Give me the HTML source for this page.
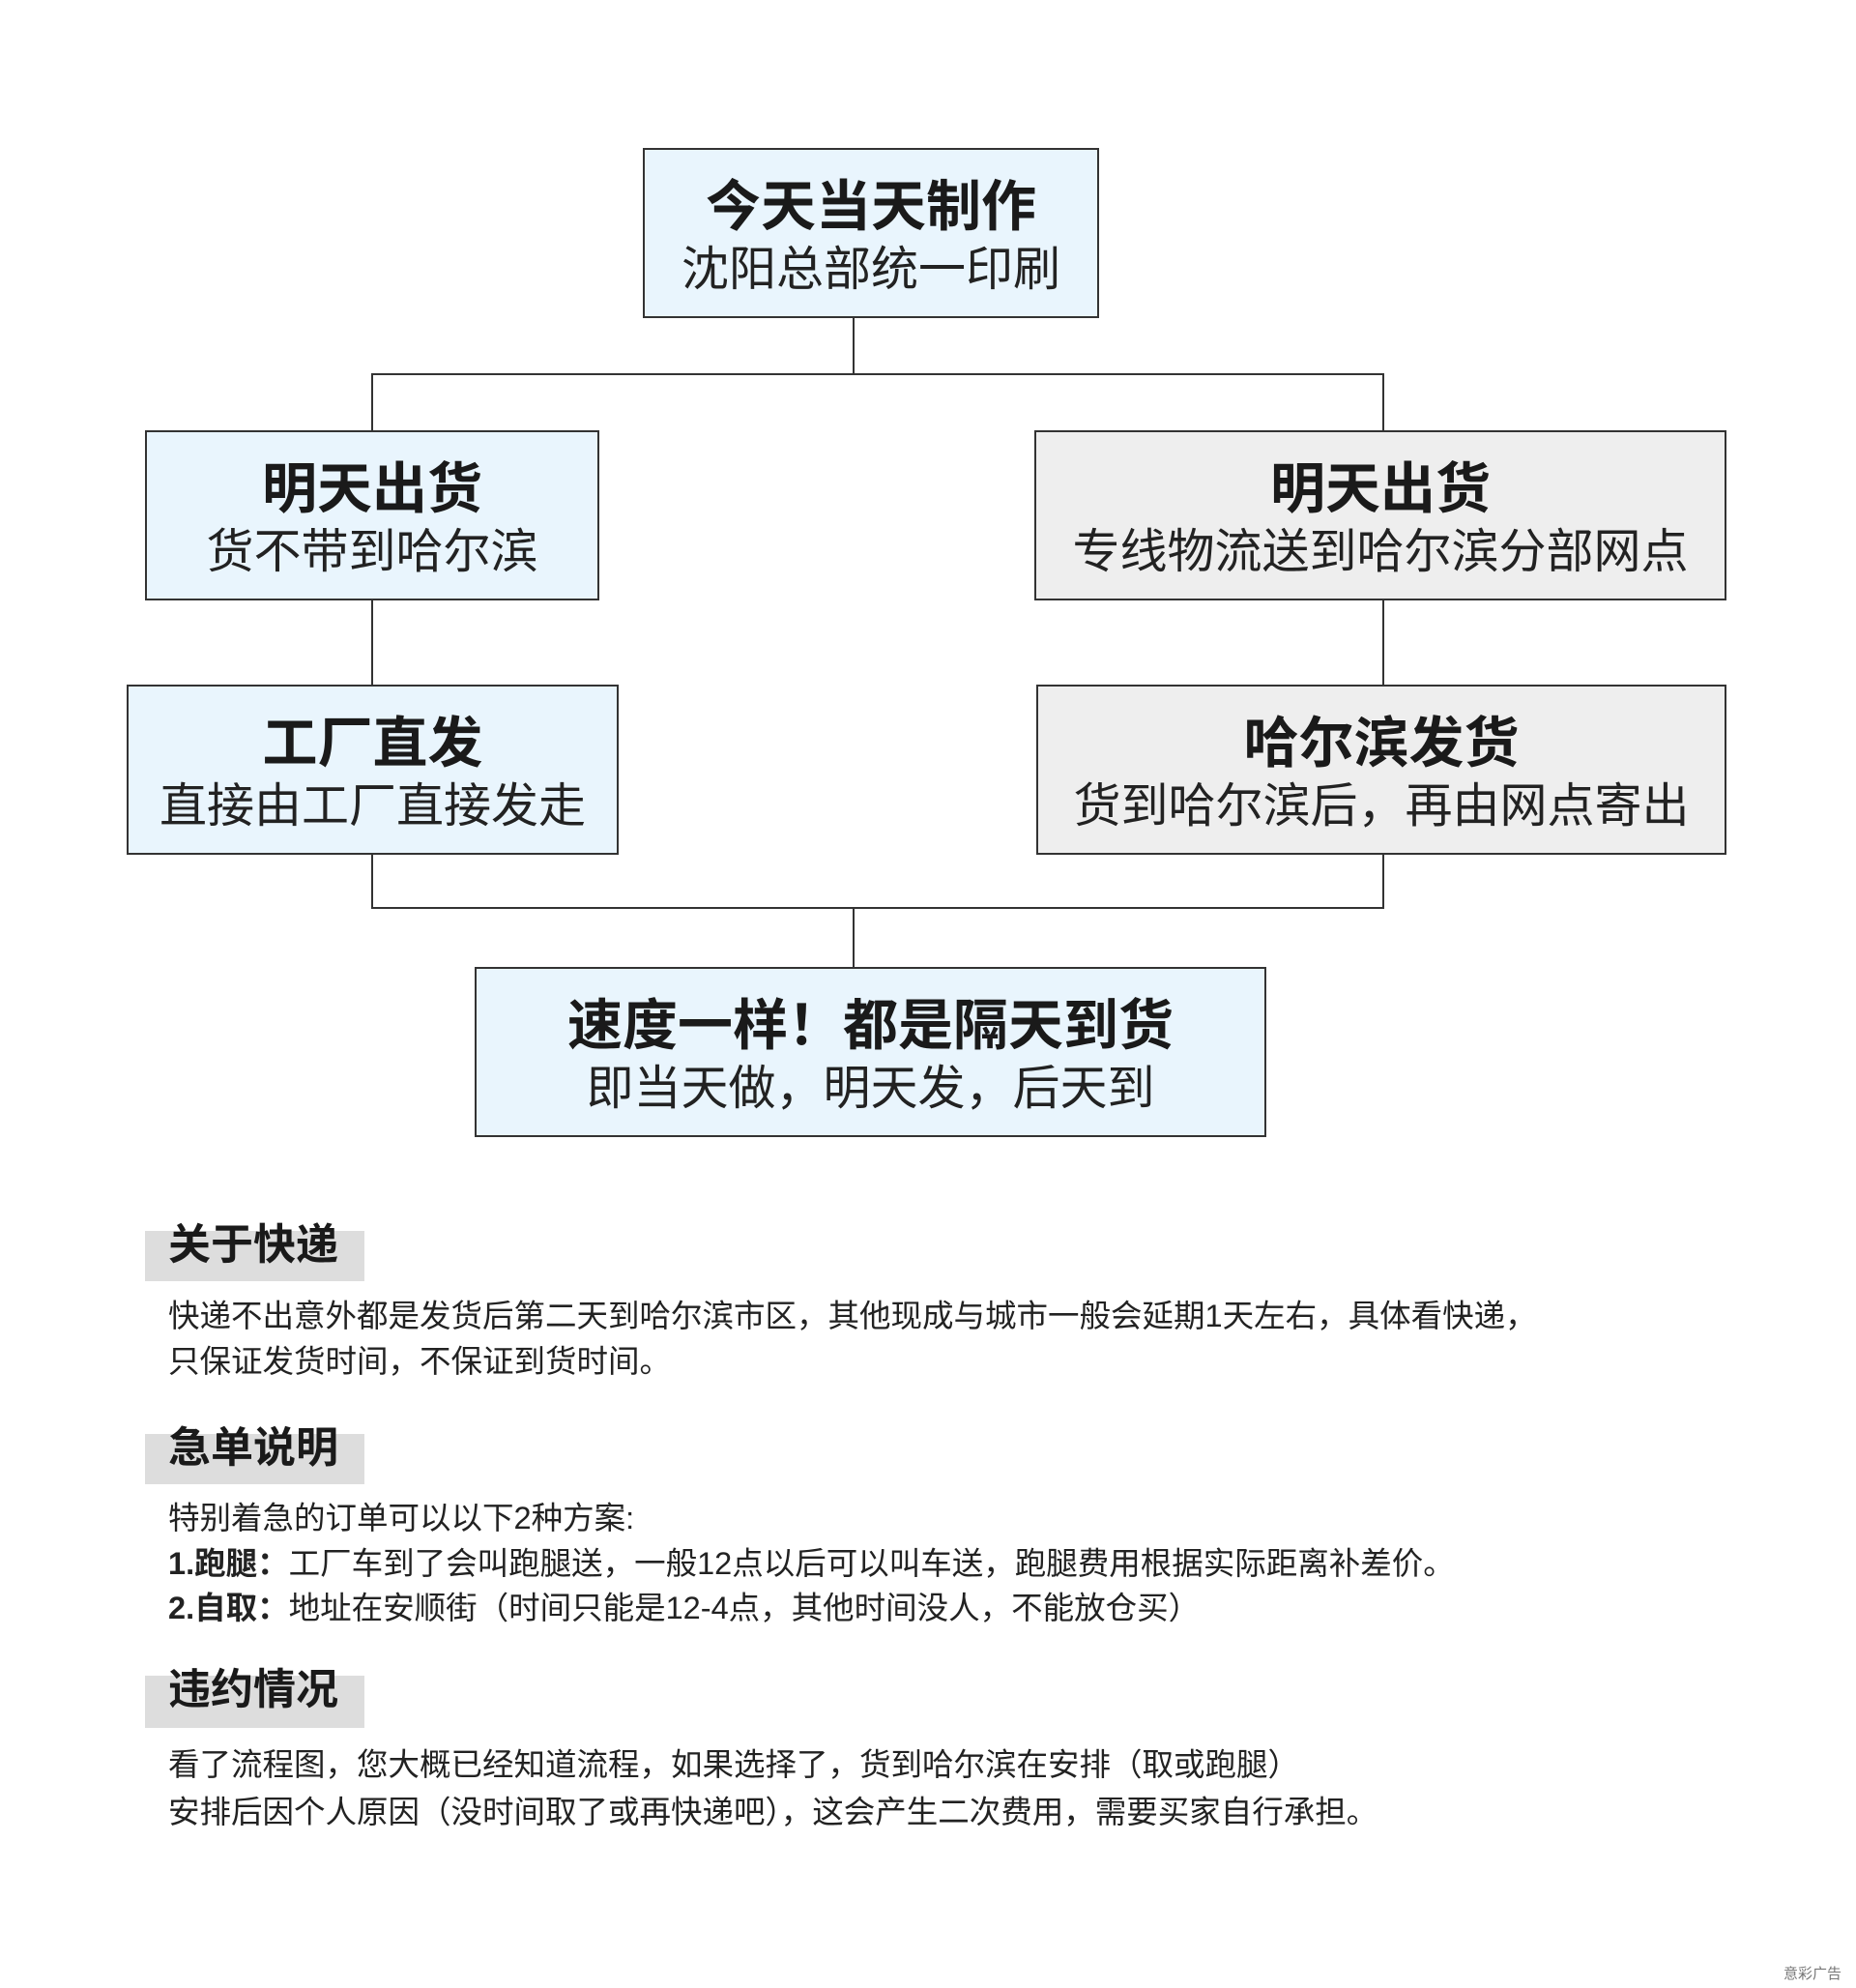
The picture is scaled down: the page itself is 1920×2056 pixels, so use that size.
<!DOCTYPE html>
<html><head><meta charset="utf-8"><style>
body{margin:0;width:1920px;height:2056px;background:#fff;position:relative;overflow:hidden;font-family:"Liberation Sans","Noto Sans CJK SC",sans-serif;color:#222}
.b{position:absolute;box-sizing:border-box;border:2px solid #333;text-align:center;display:flex;flex-direction:column;justify-content:center;padding-top:8px}
.bl{background:#e9f5fd}.gr{background:#eeeeee}
.t{font-weight:bold;font-size:57px;line-height:68px;color:#1a1a1a}
.s{font-size:49px;line-height:62px;color:#222}
.l{position:absolute;background:#333}
.bar{position:absolute;left:150px;width:227px;background:#ddd}
.h{position:absolute;left:174px;font-weight:bold;font-size:44px;line-height:50px;color:#1a1a1a}
.p{position:absolute;left:174px;font-size:32.5px;line-height:34px;color:#222;white-space:nowrap}
</style></head><body>
<div class="l" style="left:882px;top:328px;width:2px;height:60px"></div>
<div class="l" style="left:384px;top:386px;width:1048px;height:2px"></div>
<div class="l" style="left:384px;top:386px;width:2px;height:60px"></div>
<div class="l" style="left:1430px;top:386px;width:2px;height:60px"></div>
<div class="l" style="left:384px;top:620px;width:2px;height:90px"></div>
<div class="l" style="left:1430px;top:620px;width:2px;height:90px"></div>
<div class="l" style="left:384px;top:882px;width:2px;height:58px"></div>
<div class="l" style="left:1430px;top:882px;width:2px;height:58px"></div>
<div class="l" style="left:384px;top:938px;width:1048px;height:2px"></div>
<div class="l" style="left:882px;top:938px;width:2px;height:64px"></div>

<div class="b bl" style="left:665px;top:153px;width:472px;height:176px"><div class="t">今天当天制作</div><div class="s">沈阳总部统一印刷</div></div>
<div class="b bl" style="left:150px;top:445px;width:470px;height:176px"><div class="t">明天出货</div><div class="s">货不带到哈尔滨</div></div>
<div class="b gr" style="left:1070px;top:445px;width:716px;height:176px"><div class="t">明天出货</div><div class="s">专线物流送到哈尔滨分部网点</div></div>
<div class="b bl" style="left:131px;top:708px;width:509px;height:176px"><div class="t">工厂直发</div><div class="s">直接由工厂直接发走</div></div>
<div class="b gr" style="left:1072px;top:708px;width:714px;height:176px"><div class="t">哈尔滨发货</div><div class="s">货到哈尔滨后，再由网点寄出</div></div>
<div class="b bl" style="left:491px;top:1000px;width:819px;height:176px"><div class="t">速度一样！都是隔天到货</div><div class="s">即当天做，明天发，后天到</div></div>

<div class="bar" style="top:1273px;height:52px"></div>
<div class="h" style="top:1263px">关于快递</div>
<div class="p" style="top:1344px">快递不出意外都是发货后第二天到哈尔滨市区，其他现成与城市一般会延期1天左右，具体看快递，</div>
<div class="p" style="top:1391px">只保证发货时间，不保证到货时间。</div>

<div class="bar" style="top:1483px;height:52px"></div>
<div class="h" style="top:1473px">急单说明</div>
<div class="p" style="top:1553px">特别着急的订单可以以下2种方案:</div>
<div class="p" style="top:1600px"><b>1.跑腿：</b>工厂车到了会叫跑腿送，一般12点以后可以叫车送，跑腿费用根据实际距离补差价。</div>
<div class="p" style="top:1646px"><b>2.自取：</b>地址在安顺街（时间只能是12-4点，其他时间没人，不能放仓买）</div>

<div class="bar" style="top:1733px;height:54px"></div>
<div class="h" style="top:1723px">违约情况</div>
<div class="p" style="top:1808px">看了流程图，您大概已经知道流程，如果选择了，货到哈尔滨在安排（取或跑腿）</div>
<div class="p" style="top:1857px">安排后因个人原因（没时间取了或再快递吧），这会产生二次费用，需要买家自行承担。</div>

<div style="position:absolute;left:1845px;top:2030px;font-size:15px;color:#777">意彩广告</div>
</body></html>
